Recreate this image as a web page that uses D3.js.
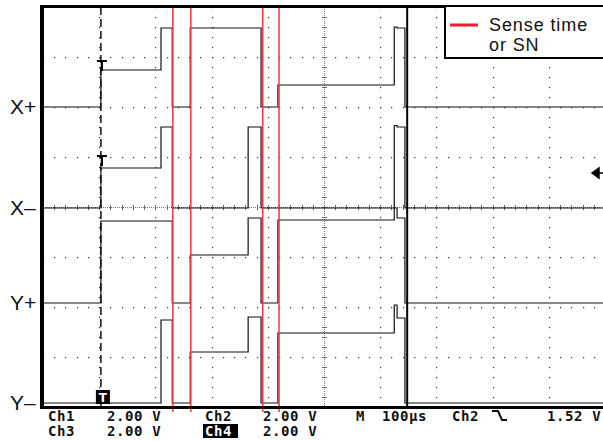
<!DOCTYPE html>
<html><head><meta charset="utf-8">
<script src="https://cdn.jsdelivr.net/npm/d3@7"></script>
<style>body{margin:0;background:#fff} svg{display:block}</style>
</head><body>
<svg id="c" width="603" height="441"></svg>
<script>
// ---- data ----
const channelNames = ["X+", "X–", "Y+", "Y–"];
const channelOffsets = [4, -0.04, -3.84, -7.84];          // V (screen position of each channel's 0 V)
const breakTimes = [0, 103, 210, 230, 262, 365, 388, 418, 625, 630, 644, 1000]; // µs
const xPlus  = [0, 1.48, 3.16, 0, 3.16, 3.16, 0, 0.88, 3.2, 3.16, 0];
const xMinus = [0, 1.6, 3.24, 0, 0, 3.24, 0, 0, 3.3, 3.24, 0];
const yPlus  = [0, 3.28, 3.28, 0, 1.92, 3.4, 0, 3.32, 3.8, 3.4, 0];
const yMinus = [0, 0, 3.32, 0, 2.04, 3.44, 0, 2.8, 3.92, 3.4, 0];
const senseTimes = [231, 263, 391, 420];   // µs, red lines
const triggerTime = 103;
const cursorTime = 648;
const timeTicks = [0,100,200,300,400,500,600,700,800,900,1000];
const voltTicks = [-8,-6,-4,-2,0,2,4,6,8];
const legendLines = ["Sense time", "or SN"];
const statusRow1 = [["Ch1",48],["2.00 V",107],["Ch2",205],["2.00 V",263],["M",356],["100µs",382],["Ch2",452],["1.52 V",547]];
const statusRow2 = [["Ch3",48],["2.00 V",107],["Ch4",205],["2.00 V",263]];

// ---- layout ----
const svg = d3.select("#c");
const x = d3.scaleLinear([0, 1000], [43, 605]);
const y = d3.scaleLinear([-8, 8], [407, 7]);

const g = svg.append("g");

// grid dots
const gridDots = g.append("g").attr("fill", "#333");
timeTicks.forEach(t => {
  if (t === 0 || t === 500 || t === 1000) return;
  for (let v = -8; v <= 8.001; v += 0.4) {
    gridDots.append("rect").attr("x", Math.round(x(t))).attr("y", Math.round(y(v))).attr("width", 1.2).attr("height", 1.2);
  }
});
voltTicks.forEach(v => {
  if (v === 0 || v === -8 || v === 8) return;
  for (let t = 0; t <= 1000; t += 20) {
    gridDots.append("rect").attr("x", Math.round(x(t))).attr("y", Math.round(y(v))).attr("width", 1.2).attr("height", 1.2);
  }
});
// center lines (dense dots + minor ticks)
const cx = Math.round(x(500)), cy = Math.round(y(0));
for (let py = 7; py <= 407; py += 2) g.append("rect").attr("x", cx).attr("y", py).attr("width", 1).attr("height", 1).attr("fill", "#777");
for (let px = 43; px <= 603; px += 2) g.append("rect").attr("x", px).attr("y", cy).attr("width", 1).attr("height", 1).attr("fill", "#777");
for (let v = -8; v <= 8.001; v += 0.4) g.append("line").attr("x1", cx-2).attr("x2", cx+3).attr("y1", Math.round(y(v))+0.5).attr("y2", Math.round(y(v))+0.5).attr("stroke", "#666").attr("stroke-width", 1);
for (let t = 0; t <= 1000; t += 20) g.append("line").attr("y1", cy-2).attr("y2", cy+3).attr("x1", Math.round(x(t))+0.5).attr("x2", Math.round(x(t))+0.5).attr("stroke", "#666").attr("stroke-width", 1);

// traces
const series = [xPlus, xMinus, yPlus, yMinus];
const line = d3.line().x(d => x(d[0])).y(d => y(d[1])).curve(d3.curveStepAfter);
series.forEach((vals, i) => {
  const pts = vals.map((v, k) => [breakTimes[k], v + channelOffsets[i]]);
  pts.push([breakTimes[breakTimes.length - 1], vals[vals.length - 1] + channelOffsets[i]]);
  g.append("path").attr("d", line(pts)).attr("fill", "none").attr("stroke", "#111").attr("stroke-width", 1.2);
});

// trigger dashed line
g.append("line").attr("x1", x(triggerTime)).attr("x2", x(triggerTime)).attr("y1", y(8)).attr("y2", y(-8))
  .attr("stroke", "#111").attr("stroke-width", 1.5).attr("stroke-dasharray", "8,4");
// cursor line
g.append("line").attr("x1", x(cursorTime)).attr("x2", x(cursorTime)).attr("y1", y(8)).attr("y2", y(-8))
  .attr("stroke", "#000").attr("stroke-width", 2);
// red sense-time lines
senseTimes.forEach(t => {
  g.append("line").attr("x1", x(t)).attr("x2", x(t)).attr("y1", y(8)).attr("y2", y(-8) + 5)
    .attr("stroke", "#f03838").attr("stroke-width", 1.5);
});

// T markers
[[x(triggerTime), 61], [x(triggerTime), 156]].forEach(([mx, my]) => {
  g.append("path").attr("d", `M${mx-4},${my} H${mx+6} M${mx+1},${my} V${my+10}`).attr("stroke", "#000").attr("stroke-width", 2.2).attr("fill", "none");
});
g.append("rect").attr("x", x(triggerTime) - 5).attr("y", 390).attr("width", 14).attr("height", 14).attr("fill", "#000");
g.append("text").attr("x", x(triggerTime) + 2).attr("y", 402).attr("text-anchor", "middle").attr("fill", "#fff")
  .attr("font-family", "DejaVu Sans").attr("font-weight", "bold").attr("font-size", 12).text("T");
// trigger-level arrow at right
g.append("path").attr("d", "M592,173 L599,168 L599,178 Z M599,173 H603").attr("fill", "#000").attr("stroke", "#000").attr("stroke-width", 1.5);

// borders
g.append("rect").attr("x", 40).attr("y", 5).attr("width", 563).attr("height", 3).attr("fill", "#000");
g.append("rect").attr("x", 40).attr("y", 5).attr("width", 4).attr("height", 404).attr("fill", "#000");
g.append("rect").attr("x", 40).attr("y", 406).attr("width", 563).attr("height", 3).attr("fill", "#000");

// channel labels
channelNames.forEach((name, i) => {
  g.append("text").attr("x", 10).attr("y", y(channelOffsets[i]) + 7)
    .attr("font-family", "Liberation Sans, Arial, sans-serif").attr("font-size", 21).attr("fill", "#111").text(name);
});

// legend
const lg = g.append("g");
lg.append("rect").attr("x", 445).attr("y", 6).attr("width", 170).attr("height", 52).attr("fill", "#fff").attr("stroke", "#000").attr("stroke-width", 2);
lg.append("line").attr("x1", 450).attr("x2", 478).attr("y1", 25).attr("y2", 25).attr("stroke", "#e8212b").attr("stroke-width", 3);
legendLines.forEach((t, i) => {
  lg.append("text").attr("x", 489).attr("y", 31 + i * 20).attr("font-family", "Liberation Sans, Arial, sans-serif")
    .attr("font-size", 18).attr("letter-spacing", 0.9).attr("fill", "#111").text(t);
});

// status rows
const st = g.append("g").attr("font-family", "DejaVu Sans Mono, monospace").attr("font-size", 14).attr("letter-spacing", 0.6).attr("font-weight", "bold").attr("fill", "#111");
statusRow1.forEach(([t, px]) => st.append("text").attr("x", px).attr("y", 421).text(t));
st.append("rect").attr("x", 203).attr("y", 424).attr("width", 35).attr("height", 14).attr("fill", "#000");
statusRow2.forEach(([t, px]) => st.append("text").attr("x", px).attr("y", 436).attr("fill", t === "Ch4" ? "#fff" : "#111").text(t));
// falling-edge trigger symbol
st.append("path").attr("d", "M492,411 H498 L502,420 H507").attr("fill", "none").attr("stroke", "#111").attr("stroke-width", 2);
</script>
</body></html>
